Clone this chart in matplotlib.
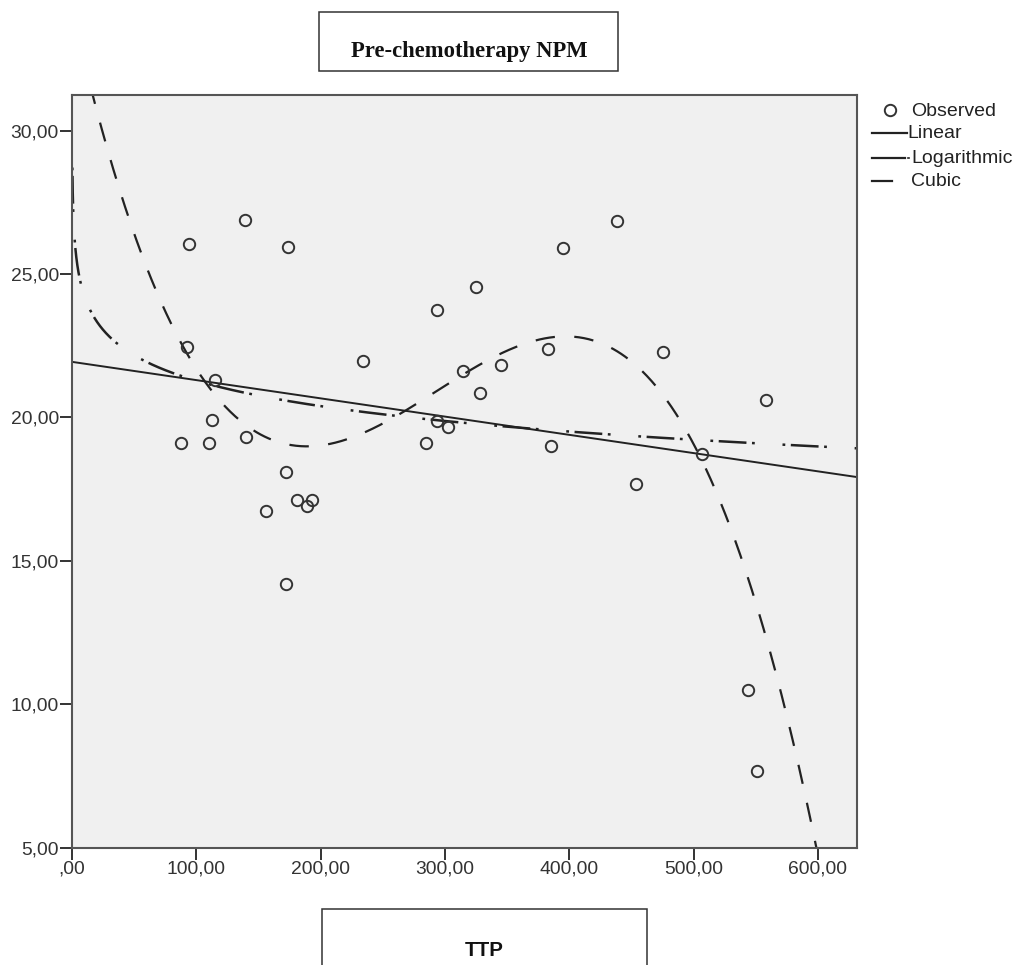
import numpy as np
import matplotlib
matplotlib.use("Agg")
import matplotlib.pyplot as plt
from matplotlib.lines import Line2D
from matplotlib.patches import Rectangle
from matplotlib.ticker import FuncFormatter, MultipleLocator

plt.rcParams['font.family'] = ['Liberation Sans', 'DejaVu Sans']
plt.rcParams['lines.scale_dashes'] = False

# ---- data ----
ttp = [87.7, 92.2, 94.1, 110.2, 112.9, 115.0, 139.1, 140.0, 155.8, 171.9,
       171.9, 173.7, 180.7, 188.7, 192.8, 233.8, 284.7, 293.8, 293.3, 302.7,
       314.7, 324.7, 328.2, 345.0, 383.1, 385.0, 394.6, 438.6, 453.6, 475.6,
       506.4, 543.9, 550.7, 557.9]
npm = [19.12, 22.47, 26.05, 19.12, 19.91, 21.31, 26.88, 19.31, 16.75, 18.09,
       14.19, 25.95, 17.12, 16.92, 17.12, 21.98, 19.12, 23.75, 19.89, 19.66,
       21.63, 24.54, 20.86, 21.83, 22.38, 19.01, 25.92, 26.86, 17.67, 22.28,
       18.73, 10.50, 7.68, 20.59]
title_text = "Pre-chemotherapy NPM"
xlabel_text = "TTP"
legend_labels = ["Observed", "Linear", "Logarithmic", "Cubic"]

x = np.array(ttp)
y = np.array(npm)

# curve estimation fits (least squares on the observed data)
lin_coef = np.polyfit(x, y, 1)
log_coef = np.polyfit(np.log(x), y, 1)
cub_coef = np.polyfit(x, y, 3)

W, H = 1014, 965
fig = plt.figure(figsize=(W / 100, H / 100), dpi=100)

def fx(px):
    return px / W

def fy(py):
    return 1 - py / H

ax = fig.add_axes([fx(72), fy(847.7), fx(857) - fx(72), fy(95) - fy(847.7)])
ax.set_facecolor('#f0f0f0')
XMAX, YMIN, YMAX = 631.4, 5.0, 31.24
ax.set_xlim(0, XMAX)
ax.set_ylim(YMIN, YMAX)

dark = '#222222'
log_style = (0, (2.0, 4.0, 20.0, 4.0, 2.0, 20.0))
cub_style = (0, (14, 14))

xs = np.linspace(0, XMAX, 800)
ax.plot(xs, np.polyval(lin_coef, xs), color=dark, lw=1.4, solid_capstyle='butt')
xl = np.geomspace(0.3, XMAX, 800)
ax.plot(xl, np.polyval(log_coef, np.log(xl)), color=dark, lw=1.8,
        linestyle=log_style)
ax.plot(xs, np.polyval(cub_coef, xs), color=dark, lw=1.6, linestyle=cub_style)

ax.plot(x, y, linestyle='none', marker='o', markersize=8.2,
        markerfacecolor='none', markeredgecolor='#333333', markeredgewidth=1.4)

def fmt(v, pos):
    s = f"{v:.2f}".replace('.', ',')
    if s.startswith('0,'):
        s = s[1:]
    return s

ax.xaxis.set_major_locator(MultipleLocator(100))
ax.yaxis.set_major_locator(MultipleLocator(5))
ax.xaxis.set_major_formatter(FuncFormatter(fmt))
ax.yaxis.set_major_formatter(FuncFormatter(fmt))
ax.set_xticks(np.arange(0, 601, 100))
ax.set_yticks(np.arange(5, 31, 5))
ax.tick_params(direction='out', length=8.5, width=1.4, color='#333333',
               labelsize=13.9, labelcolor='#333333', pad=1)
for s in ax.spines.values():
    s.set_color('#555555')
    s.set_linewidth(1.5)

# title box
fig.add_artist(Rectangle((fx(319), fy(71)), fx(618) - fx(319), fy(12) - fy(71),
                         transform=fig.transFigure, fill=False,
                         edgecolor='#333333', lw=1.1))
fig.text(fx(469), fy(56.5), title_text, ha='center', va='baseline',
         fontsize=16.3, fontweight='bold', family=['Liberation Serif'],
         color='#111111')

# x label box
fig.add_artist(Rectangle((fx(321.7), fy(990)), fx(646.7) - fx(321.7),
                         fy(909) - fy(990), transform=fig.transFigure,
                         fill=False, edgecolor='#333333', lw=1.1))
fig.text(fx(484), fy(956.5), xlabel_text, ha='center', va='baseline',
         fontsize=14.8, fontweight='bold', color='#111111')

# legend (drawn at figure positions)
lg_fs = 14
fig.add_artist(Line2D([fx(890)], [fy(110)], transform=fig.transFigure,
                      linestyle='none', marker='o', markersize=8.2,
                      markerfacecolor='none', markeredgecolor='#333333',
                      markeredgewidth=1.4))
fig.text(fx(911), fy(111), legend_labels[0], ha='left', va='center',
         fontsize=lg_fs, color='#222222')
fig.add_artist(Line2D([fx(872), fx(907)], [fy(132.5), fy(132.5)],
                      transform=fig.transFigure, color=dark, lw=1.6))
fig.text(fx(907), fy(133.5), legend_labels[1], ha='left', va='center',
         fontsize=lg_fs, color='#222222')
fig.add_artist(Line2D([fx(872), fx(905)], [fy(157.7), fy(157.7)],
                      transform=fig.transFigure, color=dark, lw=1.6))
fig.add_artist(Line2D([fx(907.5), fx(909)], [fy(157.7), fy(157.7)],
                      transform=fig.transFigure, color=dark, lw=1.2))
fig.text(fx(911), fy(158.5), legend_labels[2], ha='left', va='center',
         fontsize=lg_fs, color='#222222')
fig.add_artist(Line2D([fx(872), fx(892)], [fy(180.7), fy(180.7)],
                      transform=fig.transFigure, color=dark, lw=1.6))
fig.text(fx(911), fy(182), legend_labels[3], ha='left', va='center',
         fontsize=lg_fs, color='#222222')

fig.savefig('out.png', dpi=100, facecolor='white')
